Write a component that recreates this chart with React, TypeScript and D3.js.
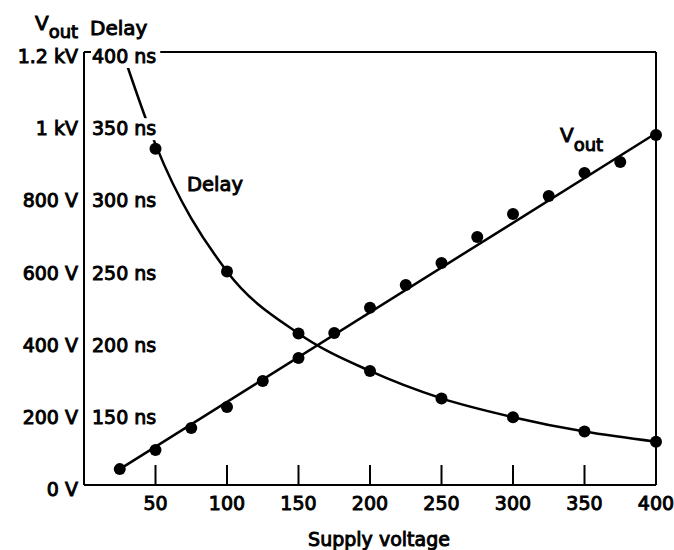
import { useEffect, useRef } from "react";
import * as d3 from "d3";

// supply voltage readings (V)
const voutSupply = [25, 50, 75, 100, 125, 150, 175, 200, 225, 250, 275, 300, 325, 350, 375, 400];
const voutValues = [44, 97, 158, 216, 288, 352, 421, 491, 554, 615, 687, 751, 801, 865, 895, 970];
// straight fit line drawn through the Vout points
const voutFitSupply = [25, 400];
const voutFitValues = [44, 975];

const delaySupply = [50, 100, 150, 200, 250, 300, 350, 400];
const delayValues = [333, 248, 205, 179, 160, 147, 137, 130];
// fitted delay curve
const delayFitSupply = [27, 50, 100, 150, 200, 250, 300, 350, 400];
const delayFitValues = [400, 336, 248, 205, 179, 160, 147, 137, 130];

const xTicks = [50, 100, 150, 200, 250, 300, 350, 400];
const voutTicks = [0, 200, 400, 600, 800, 1000, 1200];
const voutTickLabels = ["0 V", "200 V", "400 V", "600 V", "800 V", "1 kV", "1.2 kV"];
const delayTicks = [150, 200, 250, 300, 350, 400];
const delayTickLabels = ["150 ns", "200 ns", "250 ns", "300 ns", "350 ns", "400 ns"];

const W = 674;
const H = 550;
const FONT = "'DejaVu Sans', sans-serif";

export default function App() {
  const svgRef = useRef<SVGSVGElement | null>(null);

  useEffect(() => {
    if (!svgRef.current) return;
    const svg = d3.select(svgRef.current);
    svg.selectAll("*").remove();

    const x = d3.scaleLinear().domain([0, 400]).range([84, 656]);
    const yV = d3.scaleLinear().domain([0, 1200]).range([485, 52]);
    const yD = d3.scaleLinear().domain([100, 400]).range([485, 52]);

    const txt = (g: any) =>
      g.attr("font-family", FONT).attr("fill", "#000").attr("stroke", "#000").attr("stroke-width", 0.95);

    // frame
    const frame = svg.append("g").attr("stroke", "#000").attr("stroke-width", 2).attr("fill", "none");
    frame.append("line").attr("x1", x(0)).attr("x2", x(400)).attr("y1", yV(1200)).attr("y2", yV(1200));
    frame.append("line").attr("x1", x(0)).attr("x2", x(400)).attr("y1", yV(0)).attr("y2", yV(0));
    frame.append("line").attr("x1", x(0)).attr("x2", x(0)).attr("y1", yV(0)).attr("y2", yV(1200));
    frame.append("line").attr("x1", x(400)).attr("x2", x(400)).attr("y1", yV(0)).attr("y2", yV(1200));

    // x ticks (inward)
    frame
      .selectAll("line.xt")
      .data(xTicks.filter((d) => d < 400))
      .enter()
      .append("line")
      .attr("class", "xt")
      .attr("x1", (d) => x(d))
      .attr("x2", (d) => x(d))
      .attr("y1", yV(0))
      .attr("y2", yV(0) - 20);

    // Vout fit line
    const vLine = d3
      .line<number>()
      .x((d) => x(voutFitSupply[d]))
      .y((d) => yV(voutFitValues[d]));
    svg
      .append("path")
      .attr("d", vLine(d3.range(voutFitSupply.length)))
      .attr("fill", "none")
      .attr("stroke", "#000")
      .attr("stroke-width", 2.5);

    // Delay fit curve
    const dLine = d3
      .line<number>()
      .x((d) => x(delayFitSupply[d]))
      .y((d) => yD(delayFitValues[d]))
      .curve(d3.curveMonotoneX);
    svg
      .append("path")
      .attr("d", dLine(d3.range(delayFitSupply.length)))
      .attr("fill", "none")
      .attr("stroke", "#000")
      .attr("stroke-width", 2.5);

    // points
    svg
      .append("g")
      .selectAll("circle")
      .data(voutSupply)
      .enter()
      .append("circle")
      .attr("cx", (d) => x(d))
      .attr("cy", (_, i) => yV(voutValues[i]))
      .attr("r", 6)
      .attr("fill", "#000");
    svg
      .append("g")
      .selectAll("circle")
      .data(delaySupply)
      .enter()
      .append("circle")
      .attr("cx", (d) => x(d))
      .attr("cy", (_, i) => yD(delayValues[i]))
      .attr("r", 6)
      .attr("fill", "#000");

    // Vout tick labels (left of axis)
    svg
      .append("g")
      .call(txt)
      .attr("font-size", 19)
      .attr("text-anchor", "end")
      .selectAll("text")
      .data(voutTicks)
      .enter()
      .append("text")
      .attr("x", 78)
      .attr("y", (d) => yV(d) + 11)
      .text((_, i) => voutTickLabels[i]);

    // Delay tick labels (inside, on white boxes that break the lines)
    const dl = svg.append("g").attr("font-size", 19);
    const labels = dl
      .selectAll("g")
      .data(delayTicks)
      .enter()
      .append("g");
    labels
      .append("text")
      .call(txt)
      .attr("x", 92)
      .attr("y", (d) => yD(d) + 11)
      .text((_, i) => delayTickLabels[i]);
    labels.each(function () {
      const g = d3.select(this);
      const t = g.select<SVGTextElement>("text").node();
      if (!t) return;
      const b = t.getBBox();
      g.insert("rect", "text")
        .attr("x", b.x - 1)
        .attr("y", b.y + 1)
        .attr("width", b.width + 5)
        .attr("height", b.height)
        .attr("fill", "#fff");
    });

    // x tick labels
    svg
      .append("g")
      .call(txt)
      .attr("font-size", 19)
      .attr("text-anchor", "middle")
      .selectAll("text")
      .data(xTicks)
      .enter()
      .append("text")
      .attr("x", (d) => x(d))
      .attr("y", 510)
      .text((d) => String(d));

    // axis title
    svg
      .append("text")
      .call(txt)
      .attr("font-size", 19)
      .attr("text-anchor", "middle")
      .attr("x", 379)
      .attr("y", 546)
      .text("Supply voltage");

    // column headers
    const hv = svg.append("text").call(txt).attr("x", 35).attr("y", 30).attr("font-size", 20);
    hv.append("tspan").text("V");
    hv.append("tspan").attr("font-size", 18).attr("dy", 8).text("out");
    svg.append("text").call(txt).attr("x", 90).attr("y", 35).attr("font-size", 20).text("Delay");

    // series labels
    svg.append("text").call(txt).attr("x", 187).attr("y", 191).attr("font-size", 19.5).text("Delay");
    const sv = svg.append("text").call(txt).attr("x", 560).attr("y", 142).attr("font-size", 20);
    sv.append("tspan").text("V");
    sv.append("tspan").attr("font-size", 18).attr("dy", 9).text("out");
  }, []);

  return (
    <svg
      ref={svgRef}
      width={W}
      height={H}
      style={{ position: "absolute", left: 0, top: 0, background: "#fff" }}
    ></svg>
  );
}
